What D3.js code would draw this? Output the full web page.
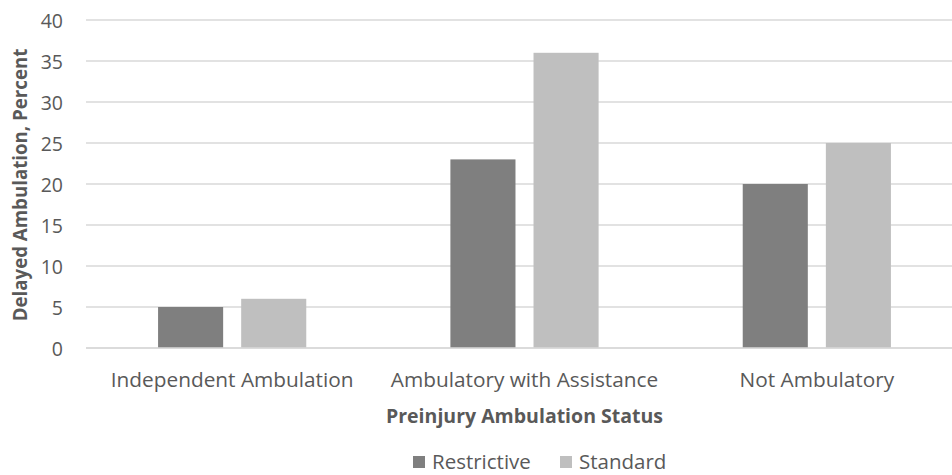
<!DOCTYPE html>
<html><head><meta charset="utf-8">
<script src="https://cdn.jsdelivr.net/npm/d3@7"></script>
<style>body{margin:0;background:#fff}svg{display:block}text{font-family:"Open Sans",sans-serif}</style>
</head><body><svg id="c" width="952" height="475"></svg>
<script>
const categories = ["Independent Ambulation", "Ambulatory with Assistance", "Not Ambulatory"];
const seriesNames = ["Restrictive", "Standard"];
const restrictive = [5, 23, 20];
const standard = [6, 36, 25];
const yTicks = [0, 5, 10, 15, 20, 25, 30, 35, 40];
const colors = ["#7f7f7f", "#bfbfbf"];
const textColor = "#595959";

const svg = d3.select("#c");
const x0 = d3.scaleBand().domain(categories).range([86, 963]).paddingInner(0).paddingOuter(0);
const x1 = d3.scaleBand().domain(seriesNames).range([0, x0.bandwidth()]).paddingInner(0.217).paddingOuter(0.867);
const y = d3.scaleLinear().domain([0, 40]).range([348, 20]);

// gridlines
svg.append("g").selectAll("line").data(yTicks).join("line")
  .attr("x1", 86).attr("x2", 963)
  .attr("y1", d => y(d)).attr("y2", d => y(d))
  .attr("stroke", "#d9d9d9").attr("stroke-width", 1.3);

// y axis labels
const yAxis = d3.axisLeft(y).tickValues(yTicks).tickSize(0).tickPadding(0);
const gy = svg.append("g").attr("transform", "translate(63,0)").call(yAxis);
gy.select(".domain").remove();
gy.selectAll("text").attr("font-size", 19.5).attr("fill", textColor).attr("font-family", "Open Sans").attr("dy", "0.4em");

// bars
const data = categories.map((c, i) => ({c, vals: [restrictive[i], standard[i]]}));
const g = svg.append("g").selectAll("g").data(data).join("g")
  .attr("transform", d => `translate(${x0(d.c)},0)`);
g.selectAll("rect").data(d => d.vals.map((v, j) => ({s: seriesNames[j], v, j}))).join("rect")
  .attr("x", d => x1(d.s)).attr("width", x1.bandwidth())
  .attr("y", d => y(d.v)).attr("height", d => y(0) - y(d.v))
  .attr("fill", d => colors[d.j]);

// baseline
svg.append("line").attr("x1", 86).attr("x2", 963).attr("y1", y(0)).attr("y2", y(0))
  .attr("stroke", "#d9d9d9").attr("stroke-width", 1.5);

// x axis labels
const xAxis = d3.axisBottom(x0).tickSize(0).tickPadding(0);
const gx = svg.append("g").attr("transform", "translate(0,387)").call(xAxis);
gx.select(".domain").remove();
gx.selectAll("text").attr("font-size", 20.8).attr("fill", textColor).attr("font-family", "Open Sans").attr("dy", 0).attr("y", 0);

// axis titles
svg.append("text").attr("x", 524.5).attr("y", 423).attr("text-anchor", "middle")
  .attr("font-size", 19.5).attr("font-weight", "bold").attr("fill", textColor)
  .text("Preinjury Ambulation Status");
svg.append("text").attr("transform", "translate(27,185) rotate(-90)").attr("text-anchor", "middle")
  .attr("font-size", 18.7).attr("font-weight", "bold").attr("fill", textColor)
  .text("Delayed Ambulation, Percent");

// legend
const legX = [413, 560];
const lg = svg.append("g").selectAll("g").data(seriesNames).join("g")
  .attr("transform", (d, i) => `translate(${legX[i]},456)`);
lg.append("rect").attr("width", 12).attr("height", 12).attr("fill", (d, i) => colors[i]);
lg.append("text").attr("x", 19).attr("y", 13).attr("font-size", 20.5).attr("fill", textColor).text(d => d);
</script></body></html>
